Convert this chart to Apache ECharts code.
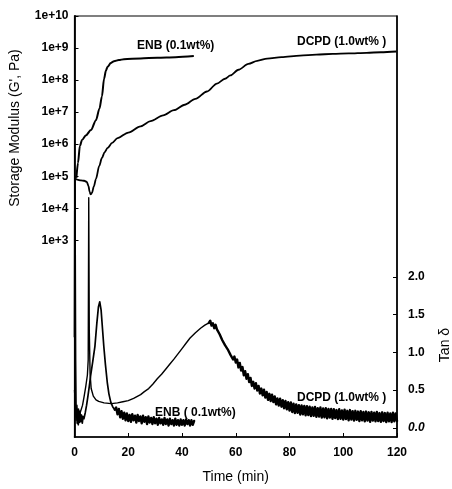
<!DOCTYPE html>
<html><head><meta charset="utf-8">
<script src="https://cdn.jsdelivr.net/npm/echarts@6/dist/echarts.min.js"></script>
<style>html,body{margin:0;padding:0;background:#fff}#c{width:452px;height:489px}</style>
</head><body><div id="c"></div>
<script>
// ---- axis ticks ----
const xTicks = [0, 20, 40, 60, 80, 100, 120];
const gExpTicks = [3, 4, 5, 6, 7, 8, 9, 10];      // 1e+3 ... 1e+10
const tanTicks = [0, 0.5, 1.0, 1.5, 2.0];

// ---- Storage modulus G' (Pa) ----
const enbGTime = [0.7, 1.3, 2.0, 2.8, 4.3, 6.1, 8.0, 9.3, 10.2, 11.0, 11.7, 12.3, 13.5, 14.7, 16.5, 18.4, 24.6, 30.8, 37.6, 44.4];
const enbGPa   = [8.9e4, 2.6e5, 8.7e5, 1.35e6, 1.9e6, 2.75e6, 5.6e6, 1.3e7, 3.1e7, 1.1e8, 2.0e8, 2.6e8, 3.4e8, 3.9e8, 4.2e8, 4.5e8, 4.7e8, 5.0e8, 5.2e8, 5.6e8];

const dcpdGTime = [0.4, 1.0, 2.4, 3.6, 4.6, 5.2, 5.6, 6.0, 6.5, 7.2, 8.0, 9.2, 10.2, 11.2, 12.3, 14.0, 16.0, 20.0, 24.6, 28.3, 33.0, 37.0, 41.0, 45.0, 49.3, 53.0, 56.0, 58.0, 61.0, 64.7, 68.0, 71.7, 77.0, 83.9, 90.0, 96.1, 102, 108.7, 114, 119.8];
const dcpdGPa   = [8.3e4, 7.8e4, 7.4e4, 7.2e4, 6.6e4, 5.0e4, 3.3e4, 2.7e4, 3.0e4, 4.8e4, 8.3e4, 2.1e5, 3.7e5, 5.6e5, 7.6e5, 1.1e6, 1.55e6, 2.3e6, 3.6e6, 5.2e6, 7.9e6, 1.15e7, 1.7e7, 2.6e7, 4.4e7, 7.8e7, 1.1e8, 1.4e8, 2.1e8, 3.2e8, 4.0e8, 4.7e8, 5.2e8, 5.8e8, 6.2e8, 6.6e8, 6.8e8, 7.1e8, 7.4e8, 7.8e8];

// ---- Tan delta ----
const enbTanTime = [0.0, 0.15, 0.4, 0.6, 0.8, 1.0, 1.2, 1.4, 1.6, 1.8, 2.0, 2.3, 2.6, 2.9, 3.2, 3.5, 4.0, 4.5, 5.0, 5.5, 6.0, 6.8, 7.6, 8.3, 8.9, 9.4, 9.9, 10.4, 10.9, 11.5, 12.2, 12.8, 13.5, 14.2, 15.0];
const enbTanHead = [1.2, 3.33, 0.9, 0.15, 0.25, 0.06, 0.2, 0.04, 0.18, 0.07, 0.22, 0.08, 0.17, 0.06, 0.15, 0.12, 0.2, 0.3, 0.42, 0.55, 0.69, 0.88, 1.08, 1.38, 1.6, 1.67, 1.56, 1.32, 1.08, 0.84, 0.6, 0.45, 0.34, 0.28, 0.24];
// noisy tail sampled every 0.5 min from 15.5 min
const enbTailStart = 15.5, enbTailStep = 0.5;
const enbTanTail = [0.27,0.18,0.25,0.14,0.22,0.12,0.2,0.1,0.19,0.09,
  0.17,0.08,0.18,0.1,0.16,0.07,0.17,0.09,0.15,0.06,
  0.16,0.08,0.14,0.05,0.15,0.07,0.13,0.05,0.14,0.06,
  0.12,0.04,0.13,0.06,0.11,0.04,0.13,0.05,0.11,0.03,
  0.12,0.05,0.1,0.03,0.12,0.04,0.1,0.03,0.11,0.04,
  0.1,0.03,0.11,0.05,0.1,0.03,0.1,0.04,0.09];

const dcpdTanTime = [0.0,0.3,0.6,0.9,1.2,1.5,1.8,2.1,2.4,3.0,3.6,4.2,4.8,5.1,5.3,5.5,5.8,6.2,7.0,8.0,9.0,11.0,13.7,16.0,18.0,20.0,22.0,24.6,26.0,27.6,29.2,30.8,32.4,34.0,35.5,37.0,38.5,40.0,41.5,43.0,45.0,46.9,48.5,50.0];
const dcpdTanHead = [0.5,0.28,0.1,0.3,0.12,0.25,0.15,0.2,0.22,0.3,0.42,0.55,0.7,0.9,3.05,1.3,0.72,0.52,0.42,0.37,0.35,0.33,0.32,0.33,0.345,0.36,0.39,0.44,0.48,0.52,0.58,0.65,0.71,0.78,0.845,0.91,0.98,1.05,1.12,1.19,1.26,1.32,1.36,1.39];
// noisy tail sampled every 0.5 min from 50.5 min
const dcpdTailStart = 50.5, dcpdTailStep = 0.5;
const dcpdTanTail = [1.42,1.355,1.385,1.32,1.365,1.305,1.32,1.24,1.25,1.16,
  1.175,1.095,1.12,1.04,1.065,0.97,0.995,0.905,0.945,0.865,
  0.905,0.80,0.86,0.76,0.805,0.695,0.75,0.65,0.71,0.605,
  0.66,0.555,0.61,0.52,0.59,0.495,0.555,0.455,0.52,0.43,
  0.505,0.40,0.475,0.37,0.45,0.355,0.44,0.34,0.415,0.31,
  0.39,0.295,0.385,0.28,0.365,0.26,0.355,0.245,0.34,0.23,
  0.335,0.21,0.32,0.195,0.31,0.20,0.30,0.175,0.295,0.18,
  0.29,0.165,0.285,0.17,0.28,0.155,0.27,0.16,0.275,0.145,
  0.26,0.15,0.27,0.135,0.255,0.14,0.26,0.125,0.25,0.135,
  0.25,0.12,0.245,0.13,0.235,0.115,0.245,0.12,0.23,0.11,
  0.24,0.115,0.225,0.10,0.235,0.11,0.22,0.095,0.225,0.105,
  0.215,0.09,0.22,0.10,0.21,0.085,0.215,0.095,0.205,0.08,
  0.21,0.095,0.20,0.085,0.21,0.09,0.195,0.08,0.205,0.09,
  0.195,0.075,0.20,0.085,0.19,0.075,0.20,0.085,0.19,0.09];

// ---- build series data ----
const zipLog = (ts, vs) => ts.map((t, i) => [t, Math.log10(vs[i])]);
const zip = (ts, vs) => ts.map((t, i) => [t, vs[i]]);
const tail = (start, step, vs) => vs.map((v, i) => [+(start + i * step).toFixed(2), v]);

const enbHeadData = zip(enbTanTime, enbTanHead);
const enbTailData = [enbHeadData[enbHeadData.length - 1]].concat(tail(enbTailStart, enbTailStep, enbTanTail));
const dcpdHeadData = zip(dcpdTanTime, dcpdTanHead);
const dcpdTailData = [dcpdHeadData[dcpdHeadData.length - 1]].concat(tail(dcpdTailStart, dcpdTailStep, dcpdTanTail));

const FONT = '"Liberation Sans", Arial, sans-serif';
const chart = echarts.init(document.getElementById('c'), null, {renderer: 'canvas'});
chart.setOption({
  animation: false,
  backgroundColor: '#fff',
  grid: {left: 74.5, right: 55, top: 16, bottom: 47, show: true, borderColor: '#000', borderWidth: 1.2, backgroundColor: 'transparent'},
  xAxis: {
    type: 'value', min: 0, max: 120, interval: 20,
    name: 'Time (min)', nameLocation: 'middle', nameGap: 33,
    nameTextStyle: {fontFamily: FONT, fontSize: 14, color: '#000'},
    axisLine: {onZero: false, lineStyle: {color: '#000', width: 1.5}},
    axisTick: {inside: true, length: 4, lineStyle: {color: '#000'}},
    axisLabel: {margin: 10, fontFamily: FONT, fontSize: 12, fontWeight: 'bold', color: '#000'},
    splitLine: {show: false}
  },
  yAxis: [{
    type: 'value', min: -3.14, max: 10, position: 'left',
    axisLine: {show: true, onZero: false, lineStyle: {color: '#000', width: 1.8}},
    axisTick: {inside: true, length: 4, customValues: gExpTicks, lineStyle: {color: '#000'}},
    axisLabel: {customValues: gExpTicks, margin: 6, fontFamily: FONT, fontSize: 12, fontWeight: 'bold', color: '#000',
      formatter: v => '1e+' + v},
    splitLine: {show: false}
  }, {
    type: 'value', min: -0.122, max: 5.458, position: 'right',
    axisLine: {show: true, onZero: false, lineStyle: {color: '#000', width: 1.5}},
    axisTick: {inside: true, length: 4, customValues: tanTicks, lineStyle: {color: '#000'}},
    axisLabel: {customValues: tanTicks, margin: 11, fontFamily: FONT, fontSize: 12, fontWeight: 'bold', color: '#000',
      formatter: v => v === 0 ? '{i|0.0}' : v.toFixed(1),
      rich: {i: {fontFamily: FONT, fontSize: 12, fontWeight: 'bold', fontStyle: 'italic', color: '#000'}}},
    splitLine: {show: false}
  }],
  series: [
    {name: "ENB G'", type: 'line', yAxisIndex: 0, showSymbol: false, smooth: 0.3, smoothMonotone: 'x',
      lineStyle: {color: '#000', width: 2}, data: zipLog(enbGTime, enbGPa)},
    {name: "DCPD G'", type: 'line', yAxisIndex: 0, showSymbol: false, smooth: 0.3, smoothMonotone: 'x',
      lineStyle: {color: '#000', width: 1.8}, data: zipLog(dcpdGTime, dcpdGPa)},
    {name: 'ENB tan δ', type: 'line', yAxisIndex: 1, showSymbol: false,
      lineStyle: {color: '#000', width: 1.7, join: 'round'}, data: enbHeadData},
    {name: 'ENB tan δ (tail)', type: 'line', yAxisIndex: 1, showSymbol: false,
      lineStyle: {color: '#000', width: 2.4, join: 'round', cap: 'round'}, data: enbTailData},
    {name: 'DCPD tan δ', type: 'line', yAxisIndex: 1, showSymbol: false,
      lineStyle: {color: '#000', width: 1.4, join: 'round'}, data: dcpdHeadData},
    {name: 'DCPD tan δ (tail)', type: 'line', yAxisIndex: 1, showSymbol: false,
      lineStyle: {color: '#000', width: 2.4, join: 'round', cap: 'round'}, data: dcpdTailData}
  ],
  graphic: [
    {type: 'text', x: 137, y: 46, style: {text: 'ENB (0.1wt%)', font: 'bold 12px ' + FONT, fill: '#000', verticalAlign: 'middle'}},
    {type: 'text', x: 297, y: 42, style: {text: 'DCPD (1.0wt% )', font: 'bold 12px ' + FONT, fill: '#000', verticalAlign: 'middle'}},
    {type: 'text', x: 155, y: 412.5, style: {text: 'ENB ( 0.1wt%)', font: 'bold 12px ' + FONT, fill: '#000', verticalAlign: 'middle'}},
    {type: 'text', x: 297, y: 398, style: {text: 'DCPD (1.0wt% )', font: 'bold 12px ' + FONT, fill: '#000', verticalAlign: 'middle'}},
    {type: 'text', x: 15, y: 128, rotation: Math.PI / 2, style: {text: "Storage Modulus (G', Pa)", font: '14px ' + FONT, fill: '#000', align: 'center', verticalAlign: 'middle'}},
    {type: 'text', x: 445, y: 345, rotation: Math.PI / 2, style: {text: 'Tan δ', font: '14px ' + FONT, fill: '#000', align: 'center', verticalAlign: 'middle'}}
  ]
});
</script>
</body></html>
